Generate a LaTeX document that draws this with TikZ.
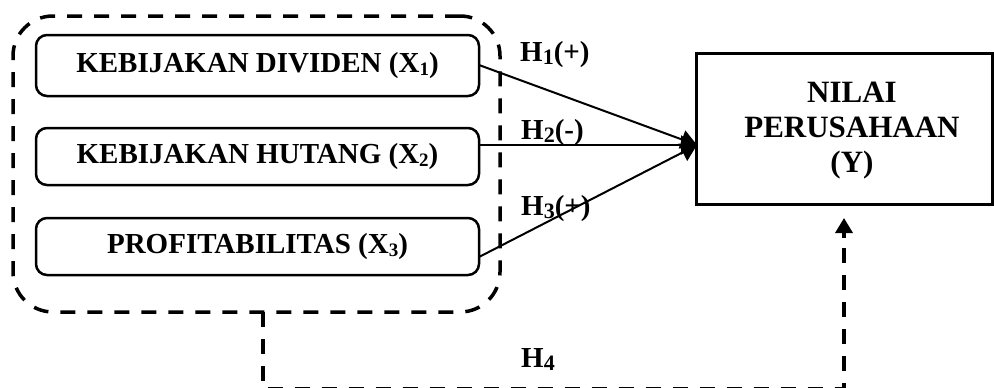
\documentclass[tikz,border=0pt]{standalone}
\usepackage{fontspec}
\setmainfont{Liberation Serif}
\usetikzlibrary{arrows.meta,calc}
\newcommand\mysub[1]{\raisebox{-3pt}{\fontsize{19}{19}\selectfont #1}}
\newcommand\hsub[1]{\raisebox{-3pt}{\fontsize{22}{22}\selectfont #1}}
\begin{document}
\begin{tikzpicture}[x=1pt,y=-1pt,
  varbox/.style={draw, line width=2.5pt, rounded corners=11pt, minimum width=443pt, minimum height=#1, inner sep=0pt,
    font=\fontsize{29}{33}\selectfont\bfseries},
  grpbox/.style={draw, line width=3.5pt, dash pattern=on 15pt off 12pt, rounded corners=40pt,
    minimum width=487pt, minimum height=296pt, inner sep=0pt},
  ybox/.style={draw, line width=3pt, minimum width=296pt, minimum height=151pt, inner sep=0pt},
  ytext/.style={align=center, font=\fontsize{31}{35}\selectfont\bfseries},
  hyp/.style={anchor=base west, inner sep=0pt, font=\fontsize{29}{33}\selectfont\bfseries},
  conn/.style={line width=2pt, -{Triangle[length=16pt,width=19pt]}},
  dconn/.style={line width=3.5pt, dash pattern=on 15pt off 12pt},
]
\useasboundingbox (0,0) rectangle (994,388);
\node[grpbox] (grp) at (256.5,164) {};
\node[varbox=61pt] (b1) at (257.5,65.5) {KEBIJAKAN DIVIDEN (X\mysub{1})};
\node[varbox=57pt] (b2) at (257.5,156.5) {KEBIJAKAN HUTANG (X\mysub{2})};
\node[varbox=57pt] (b3) at (257.5,246.5) {PROFITABILITAS (X\mysub{3})};
\node[ybox] (y) at (844,128.5) {};
\node[ytext] (yt) at (852,131) {NILAI\\PERUSAHAAN\\(Y)};
\coordinate (tip) at (697,145);
\coordinate (s1) at (479,65);
\coordinate (s2) at (479,145);
\coordinate (s3) at (479,257);
\draw[conn] (s1) -- (tip);
\draw[conn] (s2) -- (tip);
\draw[conn] (s3) -- (tip);
\node[hyp] (h1) at (520,61) {H\hsub{1}(+)};
\node[hyp] (h2) at (521,139) {H\hsub{2}(-)};
\node[hyp] (h3) at (521,215) {H\hsub{3}(+)};
\node[hyp] (h4) at (521,367) {H\hsub{4}};
\coordinate (d0) at (263,312);
\coordinate (d1) at (263,388.5);
\coordinate (d2) at (844,388.5);
\coordinate (d3) at (844,218);
\draw[dconn] (d0) -- (d1) -- (d2) -- ($(d3)+(0,14)$);
\draw[line width=3.5pt, -{Triangle[length=15pt,width=17pt]}] ($(d3)+(0,20)$) -- (d3);
\end{tikzpicture}
\end{document}
